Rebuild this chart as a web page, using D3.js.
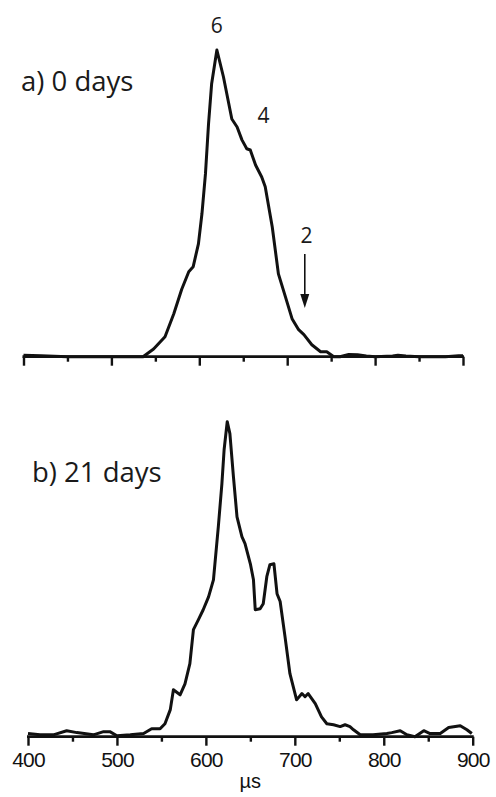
<!DOCTYPE html>
<html>
<head>
<meta charset="utf-8">
<script src="https://cdn.jsdelivr.net/npm/d3@7"></script>
<style>
    body { margin: 0; background: #fff; }
    svg { display: block; }
</style>
</head>
<body>
<svg id="chart" width="496" height="797"></svg>
<script>
// arrival time (µs) and relative intensity, 0 days
const timeA = [400, 420, 450, 500, 536, 548, 561, 571, 580, 588, 593, 599, 603, 607, 610.5, 614, 620,
    627.5, 637, 643, 648.5, 654, 658, 664, 671, 675, 683, 690, 698, 705.5, 713, 719, 728, 738, 745,
    753, 760, 770, 780, 790, 800, 820, 826, 835, 850, 880, 895, 900];
const intensityA = [0.5, 0.3, 0, 0, 0, 2.5, 6.5, 14, 22, 27.7, 29.3, 36.8, 46.6, 59.6, 75.9, 88.9, 100,
    91.2, 77.5, 74.9, 70.7, 67.8, 67.4, 62.5, 58.6, 55.4, 42.3, 27, 19.5, 12.4, 8.8, 7.2, 3.9, 1.6, 1.6,
    0, 0, 0.7, 0.6, 0.2, 0, 0.2, 0.5, 0.2, 0, 0, 0.3, 0.3];

// arrival time (µs) and relative intensity, 21 days
const timeB = [400, 413.5, 428.5, 443.5, 455, 473.5, 485, 492, 500, 515, 530, 539, 548.5, 554, 560,
    563.5, 571, 576.5, 582, 586, 591.5, 597, 603, 608.5, 614, 618, 620.5, 624, 627, 631, 635, 640.5,
    644, 650, 653.5, 655.5, 661, 664.5, 668.5, 672, 676.5, 680, 683.5, 689, 694.5, 702, 708, 711.5,
    715, 723, 730, 736, 743.5, 751, 756.5, 762, 766, 773.5, 788, 803.5, 809, 818.5, 826, 835, 845,
    852, 863.5, 873, 886, 893.5, 899];
const intensityB = [1, 0.6, 0.6, 1.9, 1.3, 0.6, 1.6, 1.6, 0.3, 0.6, 1, 2.5, 2.5, 4.1, 8.6,
    14.9, 13.3, 16.8, 23.2, 34, 37.1, 40.3, 44.4, 49.8, 66.7, 80.3, 91.1, 100, 96.2, 82.5, 69.8, 63.5,
    61.3, 54.9, 49.8, 40.3, 40.6, 42.2, 50.8, 54.6, 54.9, 45.4, 42.9, 31.7, 20, 11.7, 13.7, 12.7,
    13.7, 10.5, 6.3, 4.1, 3.8, 3.2, 3.8, 3.2, 2.2, 0.6, 0.6, 1, 1.3, 1.9, 0.6, 0, 1.9,
    1, 1, 2.9, 3.5, 2.2, 1];

const majorTicks = [400, 500, 600, 700, 800, 900];
const minorTicks = [450, 550, 650, 750, 850];
const panelLabels = ["a) 0 days", "b) 21 days"];
const peakLabels = ["6", "4", "2"];
const xTitle = "\u00b5s";

const svg = d3.select("#chart");
const ink = "#111";

class Panel {
    constructor(g, times, values, box) {
        this.g = g;
        this.data = times.map((t, i) => ({t: t, v: values[i]}));
        this.x = d3.scaleLinear().domain([400, 900]).range([box.left, box.right]);
        this.y = d3.scaleLinear().domain([0, 100]).range([box.base, box.top]);
    }

    drawAxis(withLabels) {
        let major = d3.axisBottom(this.x)
            .tickValues(majorTicks)
            .tickSize(9)
            .tickFormat(withLabels ? d3.format("d") : "");
        let minor = d3.axisBottom(this.x)
            .tickValues(minorTicks)
            .tickSize(5)
            .tickFormat("");

        let gMinor = this.g.append("g")
            .attr("transform", `translate(0,${this.y(0)})`)
            .call(minor);
        let gMajor = this.g.append("g")
            .attr("transform", `translate(0,${this.y(0)})`)
            .call(major);

        [gMinor, gMajor].forEach(a => {
            a.select(".domain").remove();
            a.selectAll(".tick line").attr("stroke", ink).attr("stroke-width", 2.4);
        });
        gMajor.selectAll(".tick text")
            .attr("fill", ink)
            .attr("dy", 0)
            .attr("y", 30)
            .style("font-family", "'Liberation Sans', Arial, sans-serif")
            .style("font-size", "21px")
            .style("letter-spacing", "-0.8px");

        this.g.append("line")
            .attr("x1", this.x(400) - 1)
            .attr("x2", this.x(900) + 1)
            .attr("y1", this.y(0))
            .attr("y2", this.y(0))
            .attr("stroke", ink)
            .attr("stroke-width", 2.8);
    }

    drawLine() {
        let line = d3.line()
            .x(d => this.x(d.t))
            .y(d => this.y(d.v));
        this.g.append("path")
            .datum(this.data)
            .attr("d", line)
            .attr("fill", "none")
            .attr("stroke", ink)
            .attr("stroke-width", 3)
            .attr("stroke-linejoin", "round");
    }
}

const panelA = new Panel(svg.append("g"), timeA, intensityA,
    {left: 23.5, right: 463, base: 356.7, top: 50});
panelA.drawAxis(false);
panelA.drawLine();

const panelB = new Panel(svg.append("g"), timeB, intensityB,
    {left: 28, right: 472.7, base: 736.7, top: 421.7});
panelB.drawAxis(true);
panelB.drawLine();

const labelFont = "'Open Sans', 'Noto Sans', sans-serif";

svg.append("text")
    .attr("x", 21).attr("y", 90.7)
    .text(panelLabels[0])
    .style("font-family", labelFont).style("font-size", "27.5px").attr("fill", "#1a1a1a");
svg.append("text")
    .attr("x", 32).attr("y", 481.7)
    .text(panelLabels[1])
    .style("font-family", labelFont).style("font-size", "27.5px").attr("fill", "#1a1a1a");

// peak annotations on panel a
const peakPos = [[620, 33.3], [673, 123], [722, 242.7]];
svg.selectAll("text.peak")
    .data(peakLabels)
    .join("text")
    .attr("class", "peak")
    .attr("x", (d, i) => panelA.x(peakPos[i][0]))
    .attr("y", (d, i) => peakPos[i][1])
    .attr("text-anchor", "middle")
    .text(d => d)
    .style("font-family", labelFont).style("font-size", "21px").attr("fill", "#1a1a1a");

// arrow below "2"
const ax = panelA.x(720);
svg.append("line")
    .attr("x1", ax).attr("x2", ax)
    .attr("y1", 254).attr("y2", 300)
    .attr("stroke", ink).attr("stroke-width", 1.6);
svg.append("path")
    .attr("d", `M${ax - 4.5},294 L${ax + 4.5},294 L${ax},308 Z`)
    .attr("fill", ink);

svg.append("text")
    .attr("x", panelB.x(650)).attr("y", 788)
    .attr("text-anchor", "middle")
    .text(xTitle)
    .style("font-family", "'Liberation Sans', Arial, sans-serif")
    .style("font-size", "20px")
    .attr("fill", ink);
</script>
</body>
</html>
